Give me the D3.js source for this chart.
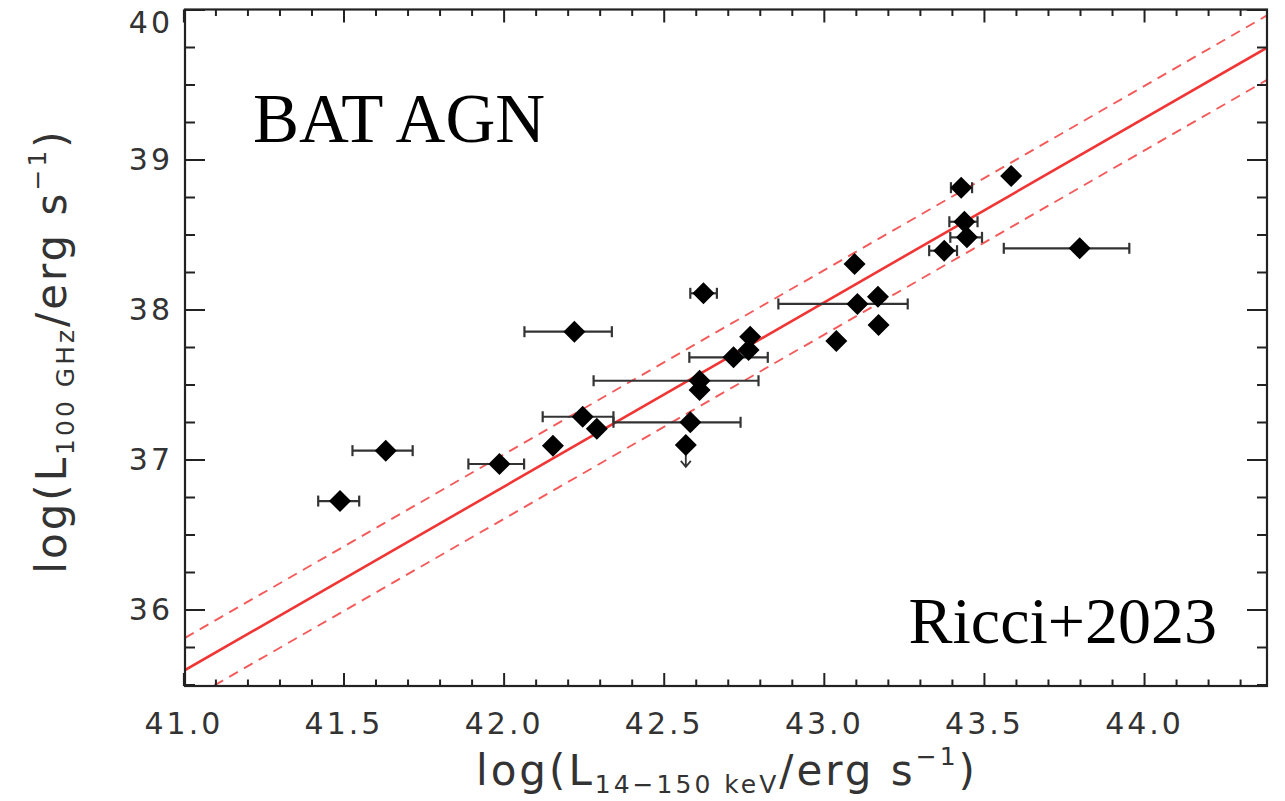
<!DOCTYPE html>
<html>
<head>
<meta charset="utf-8">
<script src="https://cdn.jsdelivr.net/npm/d3@7"></script>
<style>
  body { margin: 0; background: #fff; }
  svg { display: block; }
  .tick text { font-family: "DejaVu Sans", sans-serif; font-size: 30px; fill: #333; letter-spacing: 3px; }
  .lab { font-family: "DejaVu Sans", sans-serif; font-size: 42px; fill: #333; letter-spacing: 3px; }
  .note { font-family: "Liberation Serif", "Times New Roman", serif; fill: #000; }
</style>
</head>
<body>
<svg id="chart"></svg>
<script>
// log L(14-150 keV) vs log L(100 GHz)
var lx   = [41.489, 41.632, 41.987, 42.154, 42.221, 42.247, 42.291, 42.569, 42.583, 42.612, 42.612, 42.624, 42.718,
            42.765, 42.770, 43.039, 43.096, 43.105, 43.169, 43.171, 43.376, 43.429, 43.439, 43.447, 43.585, 43.799]
var ly   = [36.723, 37.059, 36.970, 37.092, 37.852, 37.285, 37.205, 37.097, 37.248, 37.525, 37.463, 38.108, 37.681,
            37.730, 37.819, 37.790, 38.303, 38.037, 38.085, 37.897, 38.392, 38.812, 38.585, 38.481, 38.890, 38.408]
// x error bar ends (null = no bar)
var xlo  = [41.421, 41.528, 41.890, null, 42.065, 42.122, null, null, 42.343, 42.281, null, 42.583, 42.580,
            null, null, null, null, 42.858, null, null, 43.329, 43.397, 43.392, 43.395, null, 43.562]
var xhi  = [41.549, 41.716, 42.064, null, 42.338, 42.343, null, null, 42.740, 42.796, null, 42.666, 42.825,
            null, null, null, null, 43.262, null, null, 43.416, 43.463, 43.480, 43.494, null, 43.954]
// upper limits
var upper = [false, false, false, false, false, false, false, true, false, false, false, false, false,
             false, false, false, false, false, false, false, false, false, false, false, false, false]

// best fit and scatter
var fitPivot = 43.0
var fitIntercept = 38.046
var fitSlope = 1.228
var fitScatter = [-0.215, 0, 0.215]

var xMajor = [41.0, 41.5, 42.0, 42.5, 43.0, 43.5, 44.0]
var yMajor = [36, 37, 38, 39, 40]

function draw() {
    var W = 1285, H = 801
    var mL = 185, mR = 1267, mT = 9.5, mB = 686

    var svg = d3.select("#chart").attr("width", W).attr("height", H)

    var x = d3.scaleLinear().domain([41.005, 44.384]).range([mL, mR])
    var y = d3.scaleLinear().domain([35.49, 40]).range([mB, mT])

    var xMinor = d3.range(411, 444, 1).map(function(d) { return d / 10 }).filter(function(d) { return Math.round(d * 10) % 5 != 0 })
    var yMinor = d3.range(142, 161, 1).map(function(d) { return d / 4 }).filter(function(d) { return d % 1 != 0 })

    svg.append("defs").append("clipPath").attr("id", "clip")
        .append("rect").attr("x", mL).attr("y", mT).attr("width", mR - mL).attr("height", mB - mT)

    // fit lines
    var plot = svg.append("g").attr("clip-path", "url(#clip)")
    fitScatter.forEach(function(off) {
        var line = d3.line().x(function(d) { return x(d) }).y(function(d) { return y(fitIntercept + off + fitSlope * (d - fitPivot)) })
        plot.append("path")
            .datum(x.domain())
            .attr("d", line)
            .attr("fill", "none")
            .attr("stroke", off == 0 ? "#f03535" : "#f55a5a")
            .attr("stroke-width", off == 0 ? 2.6 : 1.9)
            .attr("stroke-dasharray", off == 0 ? null : "10,7")
    })

    // error bars
    var eb = svg.append("g").attr("stroke", "#333").attr("stroke-width", 2.2)
    lx.forEach(function(v, i) {
        if (xlo[i] == null) return
        var cy = y(ly[i])
        eb.append("line").attr("x1", x(xlo[i])).attr("x2", x(xhi[i])).attr("y1", cy).attr("y2", cy)
        eb.append("line").attr("x1", x(xlo[i])).attr("x2", x(xlo[i])).attr("y1", cy - 5.5).attr("y2", cy + 5.5)
        eb.append("line").attr("x1", x(xhi[i])).attr("x2", x(xhi[i])).attr("y1", cy - 5.5).attr("y2", cy + 5.5)
    })

    // upper limit arrows
    lx.forEach(function(v, i) {
        if (!upper[i]) return
        var cx = x(v), cy = y(ly[i])
        eb.append("path")
            .attr("d", "M" + cx + "," + cy + "V" + (cy + 22) + "M" + (cx - 5) + "," + (cy + 16) + "L" + cx + "," + (cy + 22) + "L" + (cx + 5) + "," + (cy + 16))
            .attr("fill", "none").attr("stroke-width", 1.8)
    })

    // diamonds
    svg.append("g").selectAll("path")
        .data(lx)
        .enter().append("path")
        .attr("d", function(d, i) {
            var cx = x(d), cy = y(ly[i]), r = 11
            return "M" + cx + "," + (cy - r) + "L" + (cx + r) + "," + cy + "L" + cx + "," + (cy + r) + "L" + (cx - r) + "," + cy + "Z"
        })
        .attr("fill", "#000")

    // axes with inward ticks
    function clean(g) { g.select(".domain").remove(); g.selectAll("line").attr("stroke", "#222").attr("stroke-width", 2) }

    svg.append("g").attr("transform", "translate(0," + mB + ")")
        .call(d3.axisBottom(x).tickValues(xMajor).tickSize(-13).tickPadding(27).tickFormat(d3.format(".1f")))
        .call(clean)
    svg.append("g").attr("transform", "translate(0," + mB + ")")
        .call(d3.axisBottom(x).tickValues(xMinor).tickSize(-6.5).tickFormat(""))
        .call(clean)
    svg.append("g").attr("transform", "translate(0," + mT + ")")
        .call(d3.axisTop(x).tickValues(xMajor).tickSize(-13).tickFormat(""))
        .call(clean)
    svg.append("g").attr("transform", "translate(0," + mT + ")")
        .call(d3.axisTop(x).tickValues(xMinor).tickSize(-6.5).tickFormat(""))
        .call(clean)

    var yl = svg.append("g").attr("transform", "translate(" + mL + ",0)")
        .call(d3.axisLeft(y).tickValues(yMajor).tickSize(-20).tickPadding(12).tickFormat(d3.format("d")))
        .call(clean)
    yl.selectAll(".tick").filter(function(d) { return d == 40 }).select("text").attr("y", 13)
    svg.append("g").attr("transform", "translate(" + mL + ",0)")
        .call(d3.axisLeft(y).tickValues(yMinor).tickSize(-10).tickFormat(""))
        .call(clean)
    svg.append("g").attr("transform", "translate(" + mR + ",0)")
        .call(d3.axisRight(y).tickValues(yMajor).tickSize(-20).tickFormat(""))
        .call(clean)
    svg.append("g").attr("transform", "translate(" + mR + ",0)")
        .call(d3.axisRight(y).tickValues(yMinor).tickSize(-10).tickFormat(""))
        .call(clean)

    svg.append("rect")
        .attr("x", mL).attr("y", mT).attr("width", mR - mL).attr("height", mB - mT)
        .attr("fill", "none").attr("stroke", "#222").attr("stroke-width", 2.2)

    // axis titles
    function title(t, sub) {
        t.append("tspan").text("log(L")
        t.append("tspan").attr("dy", 8).attr("font-size", "25px").text(sub)
        t.append("tspan").attr("dy", -8).text("/erg s")
        t.append("tspan").attr("dy", -20).attr("font-size", "25px").text("\u22121")
        t.append("tspan").attr("dy", 20).text(")")
    }
    var xt = svg.append("text").attr("class", "lab").attr("x", 727).attr("y", 785).attr("text-anchor", "middle")
    title(xt, "14\u2212150 keV")
    var yt = svg.append("text").attr("class", "lab").attr("text-anchor", "middle")
        .attr("transform", "translate(66,351) rotate(-90)")
    title(yt, "100 GHz")

    // annotations
    svg.append("text").attr("class", "note").attr("font-size", "69px").attr("x", 253).attr("y", 142).text("BAT AGN")
    svg.append("text").attr("class", "note").attr("font-size", "66px").attr("x", 1217).attr("y", 643).attr("text-anchor", "end").text("Ricci+2023")
}

draw()
</script>
</body>
</html>
